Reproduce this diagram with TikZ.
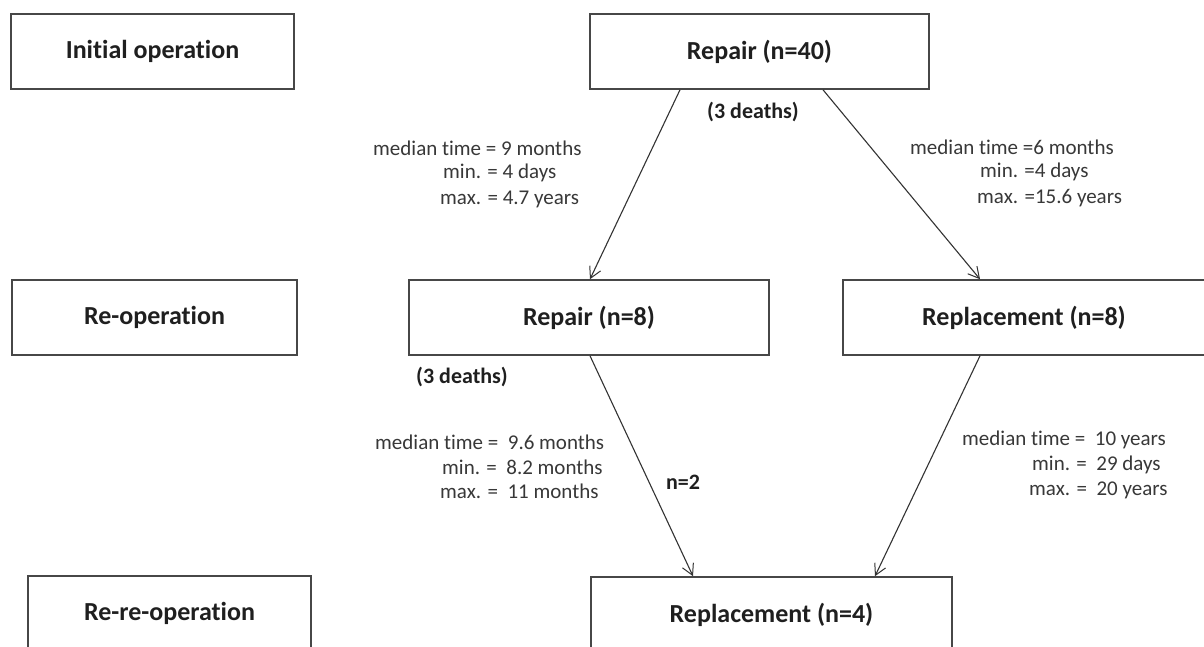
\documentclass[tikz,border=0pt]{standalone}
\usepackage{fontspec}
\setmainfont{Carlito}[Ligatures=NoCommon]
\usetikzlibrary{arrows.meta}
\begin{document}
\begin{tikzpicture}[x=1pt,y=-1pt,
  box/.style={draw=black!72, line width=1.6pt, minimum width=#1, minimum height=75pt,
    inner sep=0pt, text=black!88, font=\fontsize{26}{30}\selectfont\bfseries},
  conn/.style={draw=black!80, line width=1.1pt, -{Straight Barb[length=11pt,width=12pt,line width=1pt]}},
  note/.style={anchor=west, inner sep=0pt, text=black!78, font=\fontsize{21}{24}\selectfont},
  tag/.style={inner sep=0pt, text=black!88, font=\fontsize{22}{26}\selectfont\bfseries}]
\fill[white] (0,0) rectangle (1204,647);
\clip (0,0) rectangle (1204,647);
\useasboundingbox (0,0) rectangle (1204,647);

% row labels
\node[box=283pt] (init)   at (152.5,51.5)  {Initial operation};
\node[box=285pt] (reop)   at (154.5,317.5) {Re-operation};
\node[box=283pt] (rereop) at (169.5,613.5) {Re-re-operation};

% operations
\node[box=339pt] (rep40)  at (759.5,51.5)  {Repair (n=40)};
\node[box=360pt] (rep8)   at (589,317.5)   {Repair (n=8)};
\node[box=362pt] (repl8)  at (1024,317.5)  {Replacement (n=8)};
\node[box=361pt] (repl4)  at (771.5,614.5) {Replacement (n=4)};

% transitions
\draw[conn] ([xshift=-79.5pt]rep40.south) -- ([xshift=1pt]rep8.north);
\draw[conn] ([xshift=63.5pt]rep40.south) -- ([xshift=-44pt]repl8.north);
\draw[conn] ([xshift=1pt]rep8.south) -- ([xshift=-78.5pt]repl4.north);
\draw[conn] ([xshift=-44pt]repl8.south) -- ([xshift=103.5pt]repl4.north);

% deaths and counts
\node[tag] (d1) at (753,112) {(3 deaths)};
\node[tag] (d2) at (462,377) {(3 deaths)};
\node[tag] (n2) at (683,482) {n=2};

% time intervals
\node[note] (a1) at (373,148) {median time = 9 months};
\node[note] (a2) at (443,173) {min. = 4 days};
\node[note] (a3) at (440,199) {max. = 4.7 years};

\node[note] (b1) at (910,147) {median time =6 months};
\node[note] (b2) at (980,172) {min. =4 days};
\node[note] (b3) at (977,198) {max. =15.6 years};

\node[note] (c1) at (375,442) {median time = \ 9.6 months};
\node[note] (c2) at (442,467) {min. = \ 8.2 months};
\node[note] (c3) at (440,491) {max. = \ 11 months};

\node[note] (e1) at (962,440) {median time = \ 10 years};
\node[note] (e2) at (1032,465) {min. = \ 29 days};
\node[note] (e3) at (1029,490) {max. = \ 20 years};
\end{tikzpicture}
\end{document}
